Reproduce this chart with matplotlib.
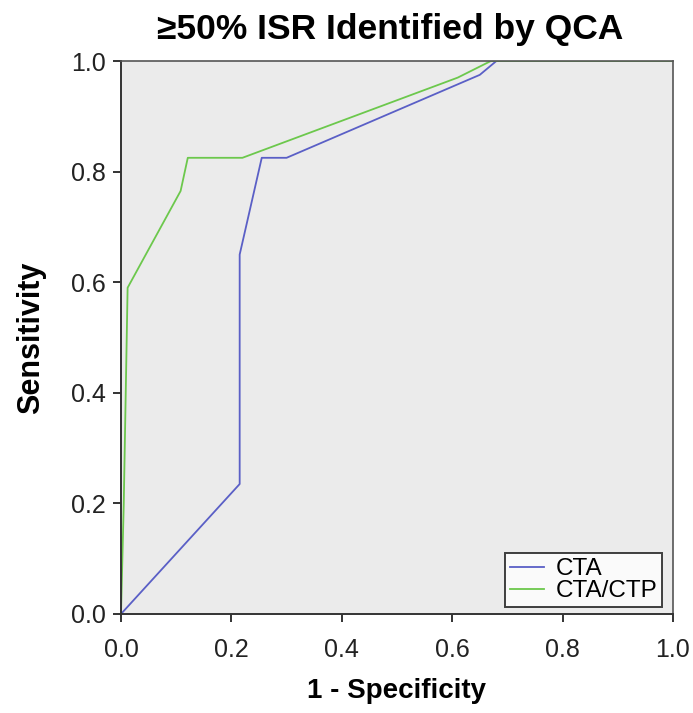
import matplotlib
matplotlib.use("Agg")
import matplotlib.pyplot as plt

# ROC points
cta_fpr = [0.0, 0.215, 0.215, 0.255, 0.30, 0.65, 0.68, 1.0]
cta_tpr = [0.0, 0.235, 0.65, 0.825, 0.825, 0.975, 1.0, 1.0]

ctp_fpr = [0.0, 0.005, 0.012, 0.108, 0.121, 0.22, 0.61, 0.67, 1.0]
ctp_tpr = [0.0, 0.20, 0.59, 0.765, 0.825, 0.825, 0.97, 1.0, 1.0]

ticks = [0.0, 0.2, 0.4, 0.6, 0.8, 1.0]
tick_labels = ["0.0", "0.2", "0.4", "0.6", "0.8", "1.0"]

plt.rcParams['font.family'] = ['Liberation Sans', 'DejaVu Sans']

fig = plt.figure(figsize=(6.93, 7.13), dpi=100)
ax = fig.add_axes([0.1746, 0.1389, 0.7965, 0.7755])
ax.set_facecolor('#ebebeb')

ax.plot(cta_fpr, cta_tpr, color='#5a5fc6', lw=1.3, label='CTA')
ax.plot(ctp_fpr, ctp_tpr, color='#6cc84c', lw=1.3, label='CTA/CTP')

ax.set_xlim(0, 1)
ax.set_ylim(0, 1)
ax.set_xticks(ticks)
ax.set_xticklabels(tick_labels)
ax.set_yticks(ticks)
ax.set_yticklabels(tick_labels)
ax.tick_params(labelsize=18, length=6, width=1.4, color='#333333', labelcolor='#222222')
ax.tick_params(axis='x', pad=11)
ax.tick_params(axis='y', pad=5)

for side in ['left', 'bottom']:
    ax.spines[side].set_color('#333333')
    ax.spines[side].set_linewidth(1.4)
for side in ['top', 'right']:
    ax.spines[side].set_color('#555555')
    ax.spines[side].set_linewidth(1.2)

ax.set_xlabel('1 - Specificity', fontsize=20, fontweight='bold', labelpad=12)
ax.set_ylabel('Sensitivity', fontsize=22, fontweight='bold', labelpad=18)
ax.set_title('\u226550% ISR Identified by QCA', fontsize=25.5, fontweight='bold',
             pad=16, x=0.487)

leg = ax.legend(loc='lower right', bbox_to_anchor=(0.980, 0.0126), fontsize=17.5,
                frameon=True, fancybox=False, handlelength=1.4, handletextpad=0.45,
                borderpad=0.2, labelspacing=0.0, borderaxespad=0.0)
leg.get_frame().set_edgecolor('#111111')
leg.get_frame().set_linewidth(1.4)
leg.get_frame().set_facecolor('white')

fig.savefig('out.png', dpi=100)
